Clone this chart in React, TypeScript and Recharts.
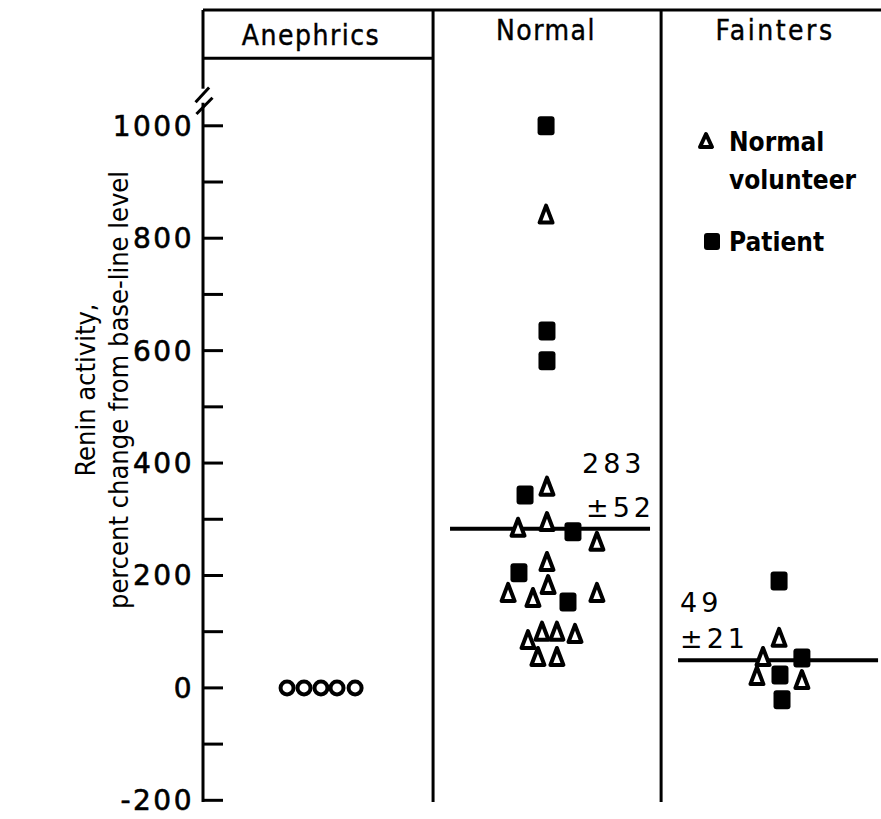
import { ScatterChart, Scatter, XAxis, YAxis, ReferenceLine } from 'recharts';

// ── Data ─────────────────────────────────────────────────────────────────────

const GROUPS = ['Anephrics', 'Normal', 'Fainters'];
const Y_TICKS = [-200, -100, 0, 100, 200, 300, 400, 500, 600, 700, 800, 900, 1000];
const Y_DOMAIN: [number, number] = [-203, 1206];
const X_DOMAIN: [number, number] = [0, 3];

// x is position inside the panel strip (0..3, one unit per group)
const anephricX = [0.372, 0.447, 0.522, 0.593, 0.673];
const anephricY = [0, 0, 0, 0, 0];

const normalVolX = [1.518, 1.522, 1.394, 1.522, 1.743, 1.522, 1.35, 1.527, 1.46, 1.743, 1.438, 1.5, 1.566, 1.646, 1.482, 1.566];
const normalVolY = [842, 358, 285, 295, 260, 224, 169, 183, 160, 169, 85, 100, 100, 96, 55, 55];

const normalPatX = [1.518, 1.522, 1.522, 1.425, 1.637, 1.398, 1.615];
const normalPatY = [1000, 635, 582, 343, 278, 205, 153];

const faintVolX = [2.549, 2.478, 2.451, 2.65];
const faintVolY = [89, 55, 21, 14];

const faintPatX = [2.549, 2.65, 2.553, 2.562];
const faintPatY = [190, 53, 23, -21];

const NORMAL_MEAN = 283;
const NORMAL_SEM = 52;
const FAINT_MEAN = 49;
const FAINT_SEM = 21;

const pts = (xs: number[], ys: number[]) => xs.map((x, i) => ({ x, y: ys[i] }));

// ── Styles ───────────────────────────────────────────────────────────────────

const INK = '#000';
const NUM_FONT = "'DejaVu Sans', sans-serif";
const COND_FONT = "'DejaVu Sans Condensed', 'Liberation Sans Narrow', 'Roboto Condensed', sans-serif";

// ── Marker shapes ────────────────────────────────────────────────────────────

function Tri(p: any) {
  const { cx, cy } = p;
  return (
    <polygon
      points={`${cx},${cy - 9} ${cx + 6.5},${cy + 8} ${cx - 6.5},${cy + 8}`}
      fill="#fff" stroke={INK} strokeWidth={4} strokeLinejoin="round"
    />
  );
}

function Sq(p: any) {
  const { cx, cy } = p;
  return <rect x={cx - 8.5} y={cy - 9.5} width={17} height={19} rx={3} fill={INK} />;
}

function Ring(p: any) {
  const { cx, cy } = p;
  return <circle cx={cx} cy={cy} r={6.5} fill="#fff" stroke={INK} strokeWidth={4} />;
}

function YTick(p: any) {
  const { x, y, payload } = p;
  const v = payload.value as number;
  return (
    <g>
      <line x1={x} x2={x + 20} y1={y} y2={y} stroke={INK} strokeWidth={3} />
      {v % 200 === 0 && (
        <text x={x - 9} y={y} dy={10} textAnchor="end" fontFamily={NUM_FONT} fontSize={28}
          letterSpacing={2.5} fill={INK} stroke={INK} strokeWidth={0.6}>
          {v}
        </text>
      )}
    </g>
  );
}

// ── Chart ────────────────────────────────────────────────────────────────────

export default function App() {
  const line = { stroke: INK, strokeWidth: 3, ifOverflow: 'visible' as const };
  const head = { fontFamily: COND_FONT, fontSize: 28, letterSpacing: 1.5, fill: INK, stroke: INK, strokeWidth: 0.4, textAnchor: 'middle' as const };
  const note = { fontFamily: NUM_FONT, fontSize: 27, letterSpacing: 4, fill: INK };
  const leg = { fontFamily: COND_FONT, fontSize: 26, fontWeight: 'bold', fill: INK };
  return (
    <div style={{ width: 881, height: 819, background: '#fff' }}>
      <style>{'body{margin:0}'}</style>
      <ScatterChart width={881} height={819} margin={{ top: 10, right: 0, bottom: 17, left: 0 }}>
        <XAxis type="number" dataKey="x" domain={X_DOMAIN} height={0} tick={false} tickLine={false}
          axisLine={{ stroke: INK, strokeWidth: 3 }} />
        <YAxis type="number" dataKey="y" domain={Y_DOMAIN} ticks={Y_TICKS} width={203}
          axisLine={false} tickLine={false} tickSize={0} tickMargin={0} tick={<YTick />} interval={0} />

        {/* frame */}
        <ReferenceLine y={Y_DOMAIN[1]} {...line} />
        <ReferenceLine segment={[{ x: 0, y: Y_DOMAIN[0] }, { x: 0, y: 1041 }]} {...line} />
        <ReferenceLine segment={[{ x: 0, y: 1066 }, { x: 0, y: Y_DOMAIN[1] }]} {...line} />
        <ReferenceLine segment={[{ x: -0.033, y: 1042 }, { x: 0.027, y: 1068 }]} {...line} />
        <ReferenceLine segment={[{ x: -0.029, y: 1021 }, { x: 0.042, y: 1050 }]} {...line} />
        <ReferenceLine x={1.018} {...line} />
        <ReferenceLine x={2.027} {...line} />
        <ReferenceLine segment={[{ x: 0, y: 1120 }, { x: 1.018, y: 1120 }]} {...line} />

        {/* group means */}
        <ReferenceLine segment={[{ x: 1.093, y: NORMAL_MEAN }, { x: 1.978, y: NORMAL_MEAN }]} {...line} strokeWidth={4} />
        <ReferenceLine segment={[{ x: 2.102, y: FAINT_MEAN }, { x: 2.987, y: FAINT_MEAN }]} {...line} strokeWidth={4} />

        <Scatter data={pts(anephricX, anephricY)} shape={<Ring />} isAnimationActive={false} />
        <Scatter data={pts(normalVolX, normalVolY)} shape={<Tri />} isAnimationActive={false} />
        <Scatter data={pts(normalPatX, normalPatY)} shape={<Sq />} isAnimationActive={false} />
        <Scatter data={pts(faintVolX, faintVolY)} shape={<Tri />} isAnimationActive={false} />
        <Scatter data={pts(faintPatX, faintPatY)} shape={<Sq />} isAnimationActive={false} />

        {/* headers */}
        <text x={311} y={45} {...head}>{GROUPS[0]}</text>
        <text x={546} y={40} {...head}>{GROUPS[1]}</text>
        <text x={775} y={40} {...head} letterSpacing={2.5}>{GROUPS[2]}</text>

        {/* y label */}
        <text transform="translate(95,390) rotate(-90)" textAnchor="middle" fontFamily={COND_FONT} fontSize={27} fill={INK}>
          Renin activity,
        </text>
        <text transform="translate(128,390) rotate(-90)" textAnchor="middle" fontFamily={COND_FONT} fontSize={27} fill={INK}>
          percent change from base-line level
        </text>

        {/* mean annotations */}
        <text x={582} y={473} {...note}>{NORMAL_MEAN}</text>
        <text x={586} y={517} {...note}>±{NORMAL_SEM}</text>
        <text x={680} y={612} {...note}>{FAINT_MEAN}</text>
        <text x={680} y={648} {...note}>±{FAINT_SEM}</text>

        {/* legend */}
        <polygon points="706,134 712,147 700,147" fill="#fff" stroke={INK} strokeWidth={4} strokeLinejoin="round" />
        <text x={729} y={151} {...leg}>Normal</text>
        <text x={729} y={189} {...leg}>volunteer</text>
        <rect x={704} y={233} width={16} height={17} rx={3} fill={INK} />
        <text x={729} y={251} {...leg}>Patient</text>
      </ScatterChart>
    </div>
  );
}
